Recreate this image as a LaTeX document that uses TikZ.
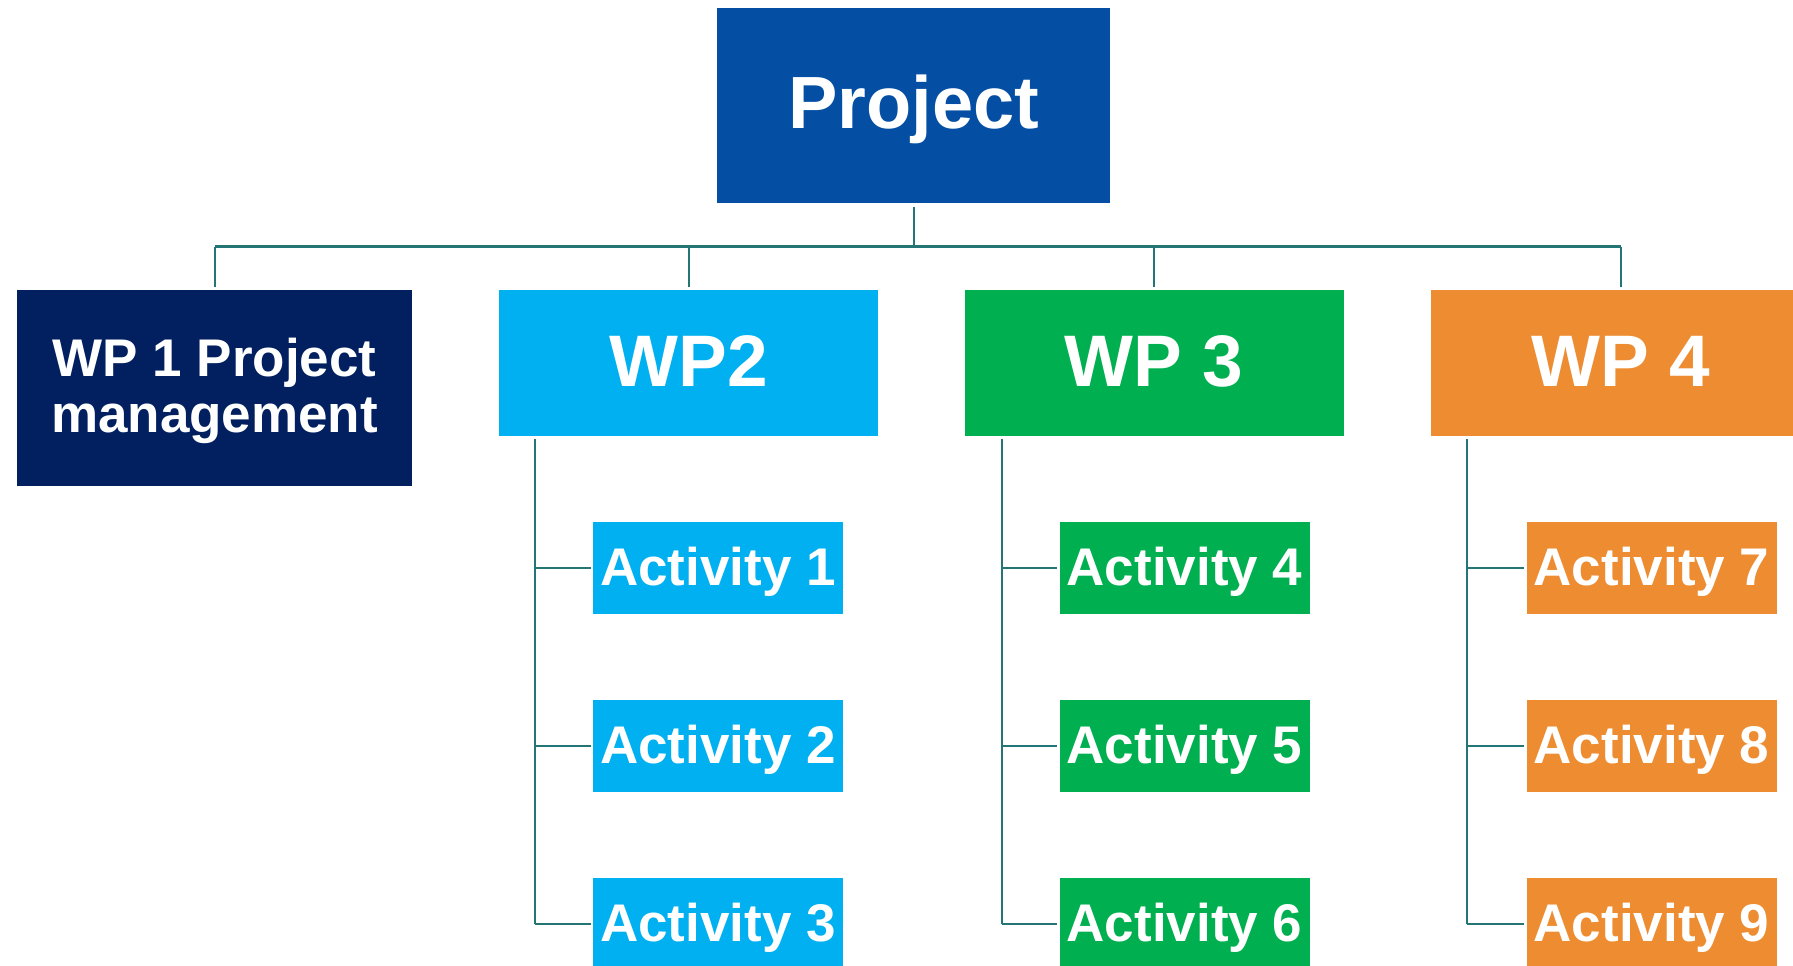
\documentclass[tikz,border=0pt]{standalone}
\usepackage{fontspec}
\setmainfont{Liberation Sans}
\definecolor{projblue}{RGB}{4,79,163}
\definecolor{wpnavy}{RGB}{2,32,96}
\definecolor{wpcyan}{RGB}{0,176,240}
\definecolor{wpgreen}{RGB}{0,176,80}
\definecolor{wporange}{RGB}{237,140,49}
\definecolor{linkteal}{RGB}{36,117,118}
\tikzset{
  box/.style={draw=none, inner sep=0pt, text=white, align=center},
  topbox/.style={box, fill=projblue, minimum width=393pt, minimum height=195pt,
    font=\bfseries\fontsize{74}{80}\selectfont, text height=55pt, text depth=10pt},
  wpbox/.style={box, minimum width=379pt, minimum height=146pt,
    font=\bfseries\fontsize{73}{80}\selectfont, text height=55pt, text depth=9pt},
  pmbox/.style={box, fill=wpnavy, minimum width=395pt, minimum height=196pt,
    font=\bfseries\fontsize{53}{56}\selectfont, text height=96pt, text depth=8pt},
  actbox/.style={box, minimum width=250pt, minimum height=92pt,
    font=\bfseries\fontsize{53}{56}\selectfont, text height=40pt, text depth=6pt},
  conn/.style={draw=linkteal, line width=2pt},
  busline/.style={draw=linkteal, line width=3pt},
}
\begin{document}
\begin{tikzpicture}[x=1pt,y=-1pt]
\useasboundingbox (0,0) rectangle (1793,966);
\clip (0,0) rectangle (1793,966);

% top level
\node[topbox] (proj) at (913.5,105.5) {Project};

% work packages
\node[pmbox] (wp1) at (214.5,388) {WP 1 Project\\management};
\node[wpbox, fill=wpcyan]   (wp2) at (688.5,363)  {WP2};
\node[wpbox, fill=wpgreen]  (wp3) at (1154,363)   {WP 3};
\node[wpbox, fill=wporange] (wp4) at (1620.5,363) {WP 4};

% activities
\foreach \n/\x/\y/\c in {1/718/568/wpcyan, 2/718/746/wpcyan, 3/718/924/wpcyan,
                         4/1184.5/568/wpgreen, 5/1184.5/746/wpgreen, 6/1184.5/924/wpgreen,
                         7/1651.5/568/wporange, 8/1651.5/746/wporange, 9/1651.5/924/wporange}
  \node[actbox, fill=\c] (a\n) at (\x,\y) {Activity \n};

% bus from the project box to the work packages
\coordinate (bus) at (913.5,246.5);
\draw[conn] ([yshift=-4pt]proj.south) -- (proj.south |- bus);
\draw[busline] (wp1.north |- bus) -- (wp4.north |- bus);
\foreach \w in {wp1,wp2,wp3,wp4}
  \draw[conn] (\w.north |- bus) -- ([yshift=3pt]\w.north);

% activity spines
\coordinate (s2) at (535,439);
\coordinate (s3) at (1002,439);
\coordinate (s4) at (1467,439);
\foreach \s/\i/\j/\k in {s2/a1/a2/a3, s3/a4/a5/a6, s4/a7/a8/a9}{
  \draw[conn] (\s) -- (\s |- \k.west);
  \foreach \a in {\i,\j,\k}
    \draw[conn, shorten >=2pt] (\s |- \a.west) -- (\a.west);
}
\end{tikzpicture}
\end{document}
